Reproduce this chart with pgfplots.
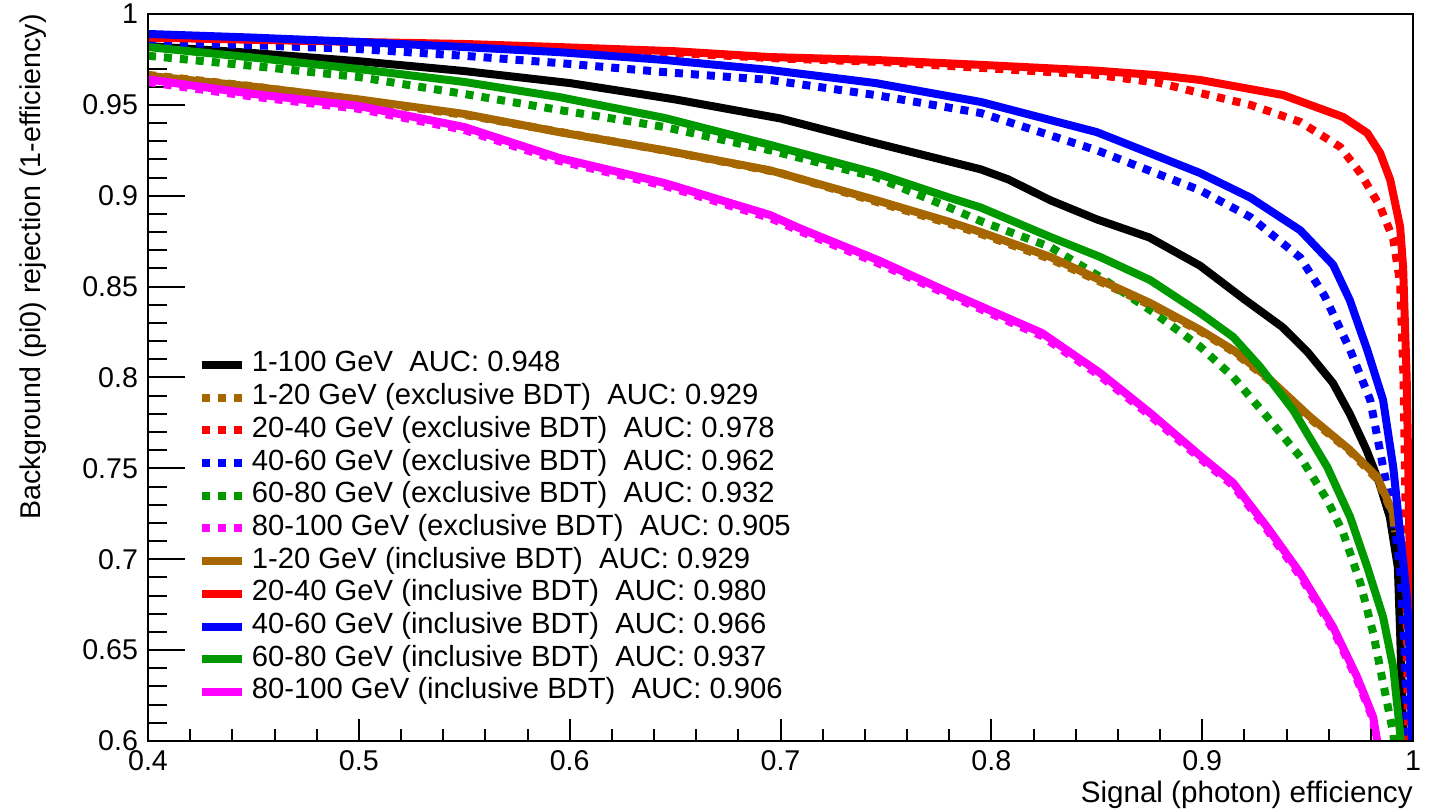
\documentclass[border=0pt]{standalone}
\usepackage{fontspec}
\setmainfont{Liberation Sans}
\usepackage{pgfplots}
\pgfplotsset{compat=1.18}
\definecolor{rbrown}{RGB}{166,102,0}
\definecolor{rgreen}{RGB}{0,153,0}
\definecolor{rred}{RGB}{255,0,0}
\definecolor{rblue}{RGB}{0,0,255}
\definecolor{rmag}{RGB}{255,0,255}
\begin{document}
\fontsize{14.4}{17}\selectfont
\begin{tikzpicture}
\pgfplotsset{
  rocbase/.style={
    scale only axis, width=632.5pt, height=363.5pt,
    xmin=0.4, xmax=1, ymin=0.6, ymax=1,
    /pgf/number format/assume math mode=true,
    tick align=inside,
    ticklabel style={font=\fontsize{14.3}{17}\selectfont},
    axis line style={line width=1pt},
    every tick/.style={black, line width=1pt},
  },
  solidc/.style={line width=4pt, line join=round},
  dotc/.style={line width=4pt, dash pattern=on 4pt off 4pt},
}
% axis with y ticks, data and legend
\begin{axis}[rocbase,
  xtick=\empty,
  ytick={0.6,0.65,0.7,0.75,0.8,0.85,0.9,0.95,1},
  minor y tick num=4,
  ytick pos=left,
  major tick length=18.5pt, minor tick length=9.5pt,
  ylabel={Background (pi0) rejection (1-efficiency)},
  ylabel style={at={(axis description cs:-0.0909,1)}, anchor=east, inner sep=0pt, font=\fontsize{14.3}{17}\selectfont},
  xlabel={Signal (photon) efficiency},
  xlabel style={at={(axis description cs:1,-0.0743)}, anchor=east, inner sep=0pt, font=\fontsize{14.8}{17}\selectfont},
  legend style={at={(axis description cs:0.0395,0.2923)}, anchor=west, draw=none, fill=none,
    inner sep=0pt, outer sep=0pt, row sep=2.35pt,
    font=\fontsize{14.6}{17}\selectfont,
    nodes={inner sep=0pt, text height=10.5pt, text depth=3.5pt},
    /tikz/every odd column/.append style={column sep=3pt}},
  legend cell align=left,
  legend image code/.code={\draw[#1] (0pt,0pt) -- (20pt,0pt);},
]
\coordinate (bbA) at (rel axis cs:0,0);
\coordinate (bbB) at (rel axis cs:1,1);

\addplot[solidc, black] coordinates {(0.40,0.9824)(0.45,0.9785)(0.50,0.9740)(0.55,0.9686)(0.60,0.9620)(0.65,0.9530)(0.70,0.9425)(0.745,0.9290)(0.795,0.9145)(0.808,0.9090)(0.828,0.8975)(0.85,0.8870)(0.875,0.8770)(0.899,0.8615)(0.92,0.8430)(0.938,0.8278)(0.950,0.8140)(0.962,0.7970)(0.970,0.7800)(0.978,0.7600)(0.984,0.7420)(0.989,0.7232)(0.9928,0.6957)(0.9939,0.6594)(0.9953,0.6044)(0.9955,0.6)};
\addlegendentry{1-100 GeV\ \ AUC: 0.948}

\addplot[dotc, rbrown] coordinates {(0.40,0.9665)(0.45,0.9602)(0.50,0.9525)(0.55,0.9445)(0.60,0.9342)(0.65,0.9238)(0.70,0.9125)(0.745,0.8968)(0.7805,0.8845)(0.795,0.8790)(0.828,0.8652)(0.852,0.8525)(0.875,0.8400)(0.899,0.8255)(0.915,0.8140)(0.931,0.7993)(0.951,0.7775)(0.970,0.7595)(0.983,0.7440)(0.9906,0.7245)(0.9915,0.7150)};
\addlegendentry{1-20 GeV (exclusive BDT)\ \ AUC: 0.929}

\addplot[dotc, rred] coordinates {(0.40,0.9860)(0.45,0.9848)(0.50,0.9838)(0.55,0.9828)(0.60,0.9812)(0.65,0.9785)(0.70,0.9755)(0.75,0.9735)(0.80,0.9700)(0.85,0.9665)(0.88,0.9620)(0.899,0.9565)(0.9228,0.9500)(0.9465,0.9406)(0.9655,0.9268)(0.975,0.9125)(0.9844,0.8940)(0.9906,0.8762)(0.9939,0.8520)(0.9955,0.8000)(0.9968,0.7000)(0.9976,0.6000)};
\addlegendentry{20-40 GeV (exclusive BDT)\ \ AUC: 0.978}

\addplot[dotc, rblue] coordinates {(0.40,0.9846)(0.45,0.9828)(0.50,0.9807)(0.55,0.9770)(0.595,0.9730)(0.645,0.9680)(0.695,0.9637)(0.745,0.9554)(0.795,0.9455)(0.85,0.9250)(0.899,0.9030)(0.9228,0.8883)(0.9465,0.8660)(0.958,0.8450)(0.9702,0.8151)(0.9797,0.7876)(0.9858,0.7508)(0.9906,0.7232)(0.9939,0.6957)(0.9960,0.6500)(0.9975,0.6000)};
\addlegendentry{40-60 GeV (exclusive BDT)\ \ AUC: 0.962}

\addplot[dotc, rgreen] coordinates {(0.40,0.9770)(0.45,0.9714)(0.50,0.9653)(0.55,0.9560)(0.595,0.9472)(0.645,0.9378)(0.695,0.9250)(0.745,0.9103)(0.7805,0.8933)(0.795,0.8860)(0.828,0.8718)(0.8516,0.8553)(0.8753,0.8371)(0.899,0.8170)(0.9147,0.8003)(0.9308,0.7783)(0.9465,0.7563)(0.9593,0.7326)(0.9669,0.7144)(0.975,0.6870)(0.9811,0.6594)(0.9858,0.6320)(0.9906,0.6044)(0.991,0.6)};
\addlegendentry{60-80 GeV (exclusive BDT)\ \ AUC: 0.932}

\addplot[dotc, rmag] coordinates {(0.40,0.9625)(0.45,0.9545)(0.50,0.9478)(0.55,0.9362)(0.595,0.9192)(0.645,0.9055)(0.695,0.8878)(0.7093,0.8805)(0.746,0.8630)(0.7805,0.8450)(0.824,0.8228)(0.8516,0.8008)(0.8753,0.7790)(0.899,0.7555)(0.9147,0.7405)(0.9308,0.7162)(0.9465,0.6908)(0.9621,0.6612)(0.9735,0.6337)(0.9811,0.6117)(0.9822,0.6)};
\addlegendentry{80-100 GeV (exclusive BDT)\ \ AUC: 0.905}

\addplot[solidc, rbrown] coordinates {(0.40,0.9660)(0.45,0.9600)(0.50,0.9530)(0.55,0.9450)(0.595,0.9350)(0.645,0.9250)(0.695,0.9140)(0.745,0.8977)(0.7805,0.8855)(0.795,0.8800)(0.828,0.8663)(0.8516,0.8536)(0.8753,0.8410)(0.899,0.8262)(0.9147,0.8151)(0.9308,0.8003)(0.9512,0.7783)(0.9702,0.7600)(0.983,0.7453)(0.9906,0.7254)(0.991,0.7180)};
\addlegendentry{1-20 GeV (inclusive BDT)\ \ AUC: 0.929}

\addplot[solidc, rred] coordinates {(0.40,0.9870)(0.45,0.9858)(0.50,0.9846)(0.55,0.9835)(0.595,0.9818)(0.65,0.9795)(0.695,0.9763)(0.745,0.9747)(0.795,0.9720)(0.85,0.9688)(0.88,0.9662)(0.899,0.9637)(0.9384,0.9554)(0.9669,0.9433)(0.9783,0.9345)(0.9844,0.9235)(0.9892,0.9087)(0.9939,0.8828)(0.9953,0.8608)(0.9970,0.8000)(0.9985,0.7000)(0.9994,0.6000)};
\addlegendentry{20-40 GeV (inclusive BDT)\ \ AUC: 0.980}

\addplot[solidc, rblue] coordinates {(0.40,0.9890)(0.45,0.9870)(0.50,0.9846)(0.55,0.9818)(0.595,0.9790)(0.645,0.9747)(0.695,0.9692)(0.745,0.9620)(0.795,0.9516)(0.85,0.9350)(0.899,0.9125)(0.9228,0.8990)(0.9465,0.8810)(0.9621,0.8620)(0.9700,0.8426)(0.9783,0.8151)(0.9858,0.7876)(0.9906,0.7508)(0.9939,0.7144)(0.9972,0.6776)(0.9987,0.6407)(0.9995,0.6000)};
\addlegendentry{40-60 GeV (inclusive BDT)\ \ AUC: 0.966}

\addplot[solidc, rgreen] coordinates {(0.40,0.9818)(0.45,0.9760)(0.50,0.9697)(0.55,0.9626)(0.595,0.9543)(0.645,0.9428)(0.695,0.9280)(0.745,0.9125)(0.7805,0.8988)(0.795,0.8935)(0.828,0.8773)(0.8516,0.8663)(0.8753,0.8536)(0.899,0.8355)(0.9147,0.8223)(0.9275,0.8058)(0.9432,0.7820)(0.9593,0.7508)(0.9702,0.7232)(0.9783,0.6957)(0.9858,0.6682)(0.9906,0.6407)(0.9939,0.6044)(0.9942,0.6)};
\addlegendentry{60-80 GeV (inclusive BDT)\ \ AUC: 0.937}

\addplot[solidc, rmag] coordinates {(0.40,0.9640)(0.45,0.9560)(0.50,0.9494)(0.55,0.9378)(0.595,0.9208)(0.645,0.9070)(0.695,0.8894)(0.7093,0.8820)(0.746,0.8647)(0.7805,0.8465)(0.824,0.8245)(0.8516,0.8025)(0.8753,0.7805)(0.899,0.7570)(0.9147,0.7420)(0.9308,0.7177)(0.9465,0.6924)(0.9621,0.6627)(0.9735,0.6352)(0.9811,0.6132)(0.9830,0.6000)};
\addlegendentry{80-100 GeV (inclusive BDT)\ \ AUC: 0.906}
\end{axis}
% axis with x ticks only
\begin{axis}[rocbase,
  ytick=\empty,
  xtick={0.4,0.5,0.6,0.7,0.8,0.9,1},
  minor x tick num=4,
  xtick pos=bottom,
  major tick length=11pt, minor tick length=6pt,
]
\end{axis}
\pgfresetboundingbox
\path ([shift={(-74pt,-34pt)}]bbA) rectangle ([shift={(9pt,7pt)}]bbB);
\end{tikzpicture}
\end{document}
